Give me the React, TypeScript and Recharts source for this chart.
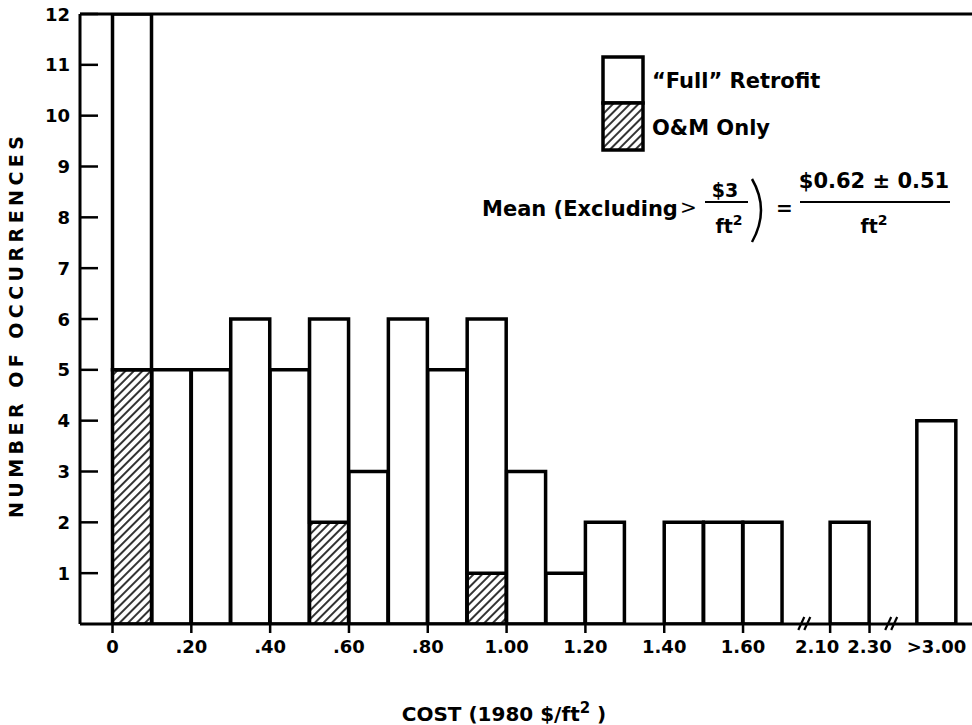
import { BarChart, Bar, XAxis, YAxis, ReferenceLine, ReferenceDot, Customized } from 'recharts';

// cost bins (1980 $/ft2): lower edge and width of each bin
const binStart = [0, 0.1, 0.2, 0.3, 0.4, 0.5, 0.6, 0.7, 0.8, 0.9, 1.0, 1.1, 1.2, 1.3, 1.4, 1.5, 1.6, 2.1, 3.0];
const binWidth = [0.1, 0.1, 0.1, 0.1, 0.1, 0.1, 0.1, 0.1, 0.1, 0.1, 0.1, 0.1, 0.1, 0.1, 0.1, 0.1, 0.1, 0.2, 0.2];
const binLabels = [
    '0-.10', '.10-.20', '.20-.30', '.30-.40', '.40-.50', '.50-.60', '.60-.70', '.70-.80', '.80-.90', '.90-1.00',
    '1.00-1.10', '1.10-1.20', '1.20-1.30', '1.30-1.40', '1.40-1.50', '1.50-1.60', '1.60-1.70', '2.10-2.30', '>3.00',
];
const fullRetrofit = [7, 5, 5, 6, 5, 4, 3, 6, 5, 5, 3, 1, 2, 0, 2, 2, 2, 2, 4];
const omOnly = [5, 0, 0, 0, 0, 2, 0, 0, 0, 1, 0, 0, 0, 0, 0, 0, 0, 0, 0];

const tickCosts = [0, 0.2, 0.4, 0.6, 0.8, 1.0, 1.2, 1.4, 1.6, 2.1, 2.3, 3.1];
const tickLabels = ['0', '.20', '.40', '.60', '.80', '1.00', '1.20', '1.40', '1.60', '2.10', '2.30', '>3.00'];
const breakCosts = [1.9, 2.65];
const yTicks = [1, 2, 3, 4, 5, 6, 7, 8, 9, 10, 11, 12];

// broken cost axis: piecewise-linear map from cost to axis slots (one slot = $0.10 on the first segment)
const breakDomain = [0, 1.7, 2.1, 2.3, 3.0, 3.2];
const breakRange = [0, 17, 18.21, 19.21, 20.41, 21.41];
const toSlot = (cost: number) => {
    for (let i = 1; i < breakDomain.length; i++) {
        if (cost <= breakDomain[i] || i === breakDomain.length - 1) {
            const t = (cost - breakDomain[i - 1]) / (breakDomain[i] - breakDomain[i - 1]);
            return breakRange[i - 1] + t * (breakRange[i] - breakRange[i - 1]);
        }
    }
    return 0;
};

const data = binStart.map((s, i) => ({
    bin: binLabels[i],
    pos: toSlot(s + binWidth[i] / 2),
    om: omOnly[i],
    full: fullRetrofit[i],
}));
const tickSlots = tickCosts.map(toSlot);

const FONT = '"DejaVu Sans", Arial, sans-serif';

const XTick = (props: any) => {
    const { x, y, payload } = props;
    const i = tickSlots.findIndex((v) => Math.abs(v - payload.value) < 1e-6);
    const label = tickLabels[i] ?? '';
    // the two labels around the break sit close together; nudge the first one left
    const dx = label === '2.10' ? -13 : 0;
    return (
        <g>
            {!label.startsWith('>') && <line x1={x} x2={x} y1={y} y2={y + 9} stroke="#000" strokeWidth={2.5} />}
            <text x={x + dx} y={y + 29} textAnchor="middle" fontFamily={FONT} fontWeight="bold" fontSize={18} fill="#000">
                {label}
            </text>
        </g>
    );
};

const YTick = (props: any) => {
    const { x, y, payload } = props;
    return (
        <g>
            <line x1={x} x2={x + 18} y1={y} y2={y} stroke="#000" strokeWidth={2.5} />
            <text x={x - 10} y={y + 6.5} textAnchor="end" fontFamily={FONT} fontWeight="bold" fontSize={18} fill="#000">
                {payload.value}
            </text>
        </g>
    );
};

const BreakMark = (props: any) => {
    const { cx, cy } = props;
    return (
        <g stroke="#000" strokeWidth={2.2}>
            <line x1={cx - 8} y1={cy + 6} x2={cx - 2} y2={cy - 7} />
            <line x1={cx - 2} y1={cy + 6} x2={cx + 4} y2={cy - 7} />
        </g>
    );
};

const Annotations = () => (
    <g fontFamily={FONT} fontWeight="bold" fill="#000">
        <defs>
            <pattern id="omHatch" patternUnits="userSpaceOnUse" width={6} height={6} patternTransform="rotate(45)">
                <rect width={6} height={6} fill="#fff" />
                <line x1={3} y1={0} x2={3} y2={6} stroke="#000" strokeWidth={1.6} />
            </pattern>
        </defs>

        {/* legend */}
        <rect x={603} y={57} width={40} height={46} fill="#fff" stroke="#000" strokeWidth={3.5} />
        <rect x={603} y={103} width={40} height={47} fill="url(#omHatch)" stroke="#000" strokeWidth={3.5} />
        <text x={652} y={88} fontSize={21}>“Full” Retrofit</text>
        <text x={652} y={135} fontSize={21}>O&amp;M Only</text>

        {/* mean annotation */}
        <text x={482} y={216} fontSize={21}>Mean (Excluding</text>
        <text x={680} y={214} fontSize={20} fontWeight="normal">&gt;</text>
        <text x={725} y={197} fontSize={19} textAnchor="middle">$3</text>
        <line x1={705} x2={748} y1={202} y2={202} stroke="#000" strokeWidth={2} />
        <text x={729} y={233} fontSize={19} textAnchor="middle">
            ft<tspan dy={-8} fontSize={14}>2</tspan>
        </text>
        <path d="M 752 179 Q 770 210 752 242" fill="none" stroke="#000" strokeWidth={2.5} />
        <text x={776} y={215} fontSize={20}>=</text>
        <text x={874} y={188} fontSize={21} textAnchor="middle">$0.62 ± 0.51</text>
        <line x1={800} x2={950} y1={202} y2={202} stroke="#000" strokeWidth={2} />
        <text x={874} y={233} fontSize={19} textAnchor="middle">
            ft<tspan dy={-8} fontSize={14}>2</tspan>
        </text>

        {/* axis titles */}
        <text x={504} y={721} fontSize={20} textAnchor="middle">
            COST (1980 $/ft<tspan dy={-8} fontSize={15}>2</tspan>
            <tspan dy={8} fontSize={20}> )</tspan>
        </text>
        <text
            x={0}
            y={0}
            transform="translate(23 327) rotate(-90)"
            fontSize={19}
            textAnchor="middle"
            textLength={382}
        >
            NUMBER OF OCCURRENCES
        </text>
    </g>
);

export default function App() {
    return (
        <div style={{ position: 'absolute', left: 0, top: 0, width: 972, height: 725, background: '#fff' }}>
            <BarChart
                width={972}
                height={725}
                data={data}
                margin={{ top: 14, right: 0, left: 0, bottom: 71 }}
                barCategoryGap={0}
                barGap={0}
            >
                <Customized component={<Annotations />} />
                <XAxis
                    type="number"
                    dataKey="pos"
                    domain={[-0.825, 21.81]}
                    allowDataOverflow
                    ticks={tickSlots}
                    interval={0}
                    height={30}
                    tickSize={0}
                    tickMargin={0}
                    tickLine={false}
                    axisLine={{ stroke: '#000', strokeWidth: 3 }}
                    tick={<XTick />}
                />
                <YAxis
                    type="number"
                    domain={[0, 12]}
                    allowDataOverflow
                    ticks={yTicks}
                    interval={0}
                    width={80}
                    tickSize={0}
                    tickMargin={0}
                    tickLine={false}
                    axisLine={{ stroke: '#000', strokeWidth: 3 }}
                    tick={<YTick />}
                />
                <Bar dataKey="om" stackId="cost" fill="url(#omHatch)" stroke="#000" strokeWidth={3.5} isAnimationActive={false} />
                <Bar dataKey="full" stackId="cost" fill="#fff" stroke="#000" strokeWidth={3.5} isAnimationActive={false} />
                <ReferenceLine y={12} stroke="#000" strokeWidth={3} />
                {breakCosts.map((c) => (
                    <ReferenceDot key={c} x={toSlot(c)} y={0} ifOverflow="visible" shape={<BreakMark />} />
                ))}
            </BarChart>
        </div>
    );
}
